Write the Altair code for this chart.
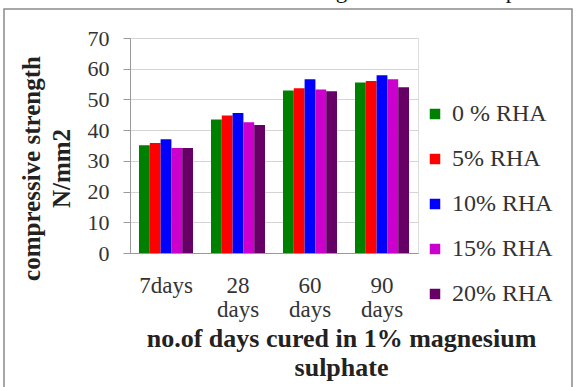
import altair as alt
import pandas as pd

# Compressive strength (N/mm2) by curing age and rice-husk-ash content
days = ["7days", "28 days", "60 days", "90 days"]
mixes = ["0 % RHA", "5% RHA", "10% RHA", "15% RHA", "20% RHA"]
rha0 = [35.1, 43.5, 52.9, 55.5]
rha5 = [35.8, 44.8, 53.6, 56.0]
rha10 = [37.0, 45.6, 56.6, 57.9]
rha15 = [34.2, 42.6, 53.2, 56.6]
rha20 = [34.2, 41.7, 52.7, 54.0]
colors = ["#008000", "#FF0000", "#0000FF", "#CC00CC", "#660066"]

rows = []
for mix, vals in zip(mixes, [rha0, rha5, rha10, rha15, rha20]):
    for d, v in zip(days, vals):
        rows.append({"days": d, "mix": mix, "strength": v})
df = pd.DataFrame(rows)

FONT = "Liberation Serif"

bars = alt.Chart(df).mark_bar().encode(
    x=alt.X(
        "days:N",
        sort=days,
        scale=alt.Scale(paddingInner=0.25, paddingOuter=0.125),
        axis=alt.Axis(
            title=["no.of days cured in 1% magnesium", "sulphate"],
            titleFont=FONT, titleFontSize=26, titleFontWeight="bold",
            titleColor="#222", titleLineHeight=29,
            titleX=211, titleY=72, titleBaseline="top", titleAlign="center",
            labelFont=FONT, labelFontSize=23, labelColor="#333",
            labelAngle=0, labelPadding=21, labelLineHeight=24,
            labelExpr="split(datum.label, ' ')",
            ticks=False, domainColor="#999", grid=False,
        ),
    ),
    xOffset=alt.XOffset("mix:N", sort=mixes),
    y=alt.Y(
        "strength:Q",
        scale=alt.Scale(domain=[0, 70]),
        axis=alt.Axis(
            values=[0, 10, 20, 30, 40, 50, 60, 70],
            title=["compressive strength", "N/mm2"],
            titleFont=FONT, titleFontSize=25, titleFontWeight="bold",
            titleColor="#222", titleLineHeight=30, titleAngle=270,
            titleX=-111, titleY=130, titleAlign="center", titleBaseline="top",
            labelFont=FONT, labelFontSize=22, labelColor="#333",
            labelPadding=14, tickSize=7, tickColor="#999",
            domainColor="#999", gridColor="#D4D4D4",
        ),
    ),
    color=alt.Color(
        "mix:N", sort=mixes,
        scale=alt.Scale(domain=mixes, range=colors),
        legend=alt.Legend(
            title=None, orient="none", legendX=293, legendY=64,
            symbolType="square", symbolSize=110, symbolStrokeWidth=0,
            labelFont=FONT, labelFontSize=24, labelColor="#333",
            labelOffset=5, rowPadding=21,
        ),
    ),
)

# outer frame around the figure
frame = alt.Chart(pd.DataFrame({"k": [0]})).mark_rect(
    fill=None, stroke="#8A8A8A", strokeWidth=1.5
).encode(
    x=alt.value(-126), x2=alt.value(442),
    y=alt.value(-29), y2=alt.value(400),
)

# running text line from the page above the figure
words = ["concrete", "cured", "in", "1%", "Magnesium", "Sulphate"]
word_x = [-127, -12, 70, 112, 175, 345]
caption = alt.layer(*[
    alt.Chart(pd.DataFrame({"t": [w]})).mark_text(
        font=FONT, fontSize=23, align="left", baseline="alphabetic", color="#111"
    ).encode(text="t:N", x=alt.value(xv), y=alt.value(-40))
    for w, xv in zip(words, word_x)
])

chart = alt.layer(frame, bars, caption).properties(
    width=288, height=215,
    padding={"left": 130, "top": 38, "right": 161, "bottom": 134},
    autosize=alt.AutoSizeParams(type="none"),
).configure_view(stroke=None).configure(background="white")

chart.save("out.html", embed_options={"renderer": "svg", "actions": False})
